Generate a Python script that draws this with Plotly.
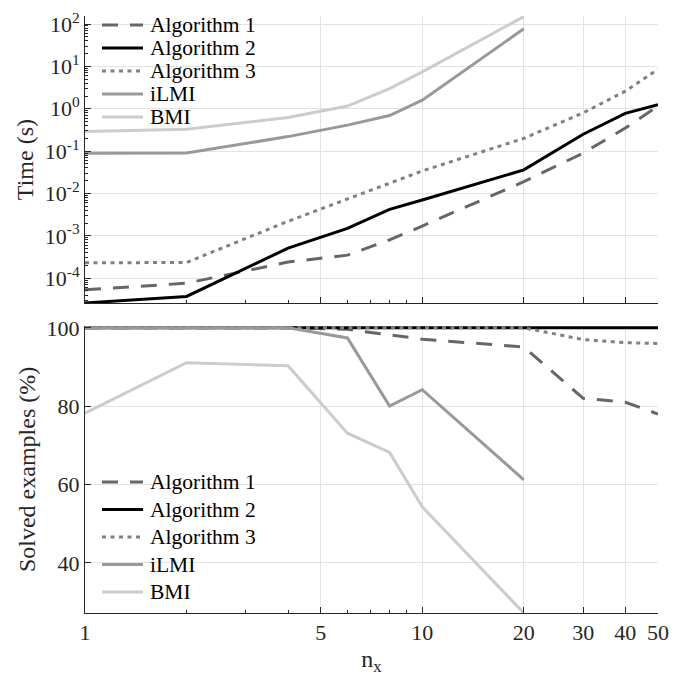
import plotly.graph_objects as go

# problem size
nx = [1, 2, 4, 6, 8, 10, 20, 30, 40, 50]
nx_lmi = [1, 2, 4, 6, 8, 10, 20]

# computation time (s)
time_alg1 = [5.3e-5, 7.6e-5, 2.4e-4, 3.5e-4, 8e-4, 1.7e-3, 0.019, 0.09, 0.35, 1.15]
time_alg2 = [2.6e-5, 3.7e-5, 5.1e-4, 1.5e-3, 4.2e-3, 7e-3, 0.036, 0.25, 0.78, 1.25]
time_alg3 = [2.3e-4, 2.35e-4, 2.2e-3, 7.5e-3, 0.018, 0.034, 0.2, 0.8, 2.6, 8.5]
time_ilmi = [0.089, 0.09, 0.22, 0.41, 0.69, 1.6, 77]
time_bmi = [0.29, 0.33, 0.62, 1.16, 3.0, 7.4, 150]

# solved examples (%)
solved_alg1 = [100, 100, 100, 99.6, 98.2, 97.1, 95.1, 82, 81, 78]
solved_alg2 = [100, 100, 100, 100, 100, 100, 100, 100, 100, 100]
solved_alg3 = [100, 100, 100, 100, 100, 100, 100, 97, 96.2, 96]
solved_ilmi = [100, 100, 100, 97.4, 80, 84.2, 61.2]
solved_bmi = [78.2, 91.1, 90.3, 73.1, 68.2, 54.3, 27.2]

names = ["Algorithm 1", "Algorithm 2", "Algorithm 3", "iLMI", "BMI"]
styles = [
    dict(color="#666666", width=3, dash="16px,12px"),
    dict(color="#000000", width=3),
    dict(color="#808080", width=3, dash="4px,4.5px"),
    dict(color="#999999", width=3),
    dict(color="#cccccc", width=3),
]
top_data = [(nx, time_alg1), (nx, time_alg2), (nx, time_alg3), (nx_lmi, time_ilmi), (nx_lmi, time_bmi)]
bot_data = [(nx, solved_alg1), (nx, solved_alg2), (nx, solved_alg3), (nx_lmi, solved_ilmi), (nx_lmi, solved_bmi)]

FONT = "Liberation Serif, Times New Roman, serif"
AX = "#262626"
OFF = 8  # page body margin
W, H = 680, 679
L, R, T, B = 77, 30, 8, 74

fig = go.Figure()
for i, name in enumerate(names):
    fig.add_trace(go.Scatter(x=top_data[i][0], y=top_data[i][1], mode="lines", name=name,
                             line=styles[i], xaxis="x", yaxis="y", showlegend=False))
for i, name in enumerate(names):
    fig.add_trace(go.Scatter(x=bot_data[i][0], y=bot_data[i][1], mode="lines", name=name,
                             line=styles[i], xaxis="x2", yaxis="y2", showlegend=False))

# hand-made legends (MATLAB style: long line sample, tight rows), page pixels -> paper
pw, ph = W - L - R, H - T - B
def px_x(p):
    return (p - OFF - L) / pw
def px_y(p):
    return (H - B - (p - OFF)) / ph

legend_rows = {"top": [25, 48, 71, 94, 117], "bottom": [482, 509.5, 537, 564.5, 592]}
for rows in legend_rows.values():
    for i, name in enumerate(names):
        yy = px_y(rows[i])
        st = styles[i]
        fig.add_shape(type="line", xref="paper", yref="paper", x0=px_x(102), x1=px_x(143),
                      y0=yy, y1=yy, line=dict(color=st["color"], width=3, dash=st.get("dash", "solid")))
        fig.add_annotation(text=name, xref="paper", yref="paper", x=px_x(148), y=yy,
                           xanchor="left", yanchor="middle", showarrow=False,
                           font=dict(family=FONT, size=21.5, color="#000000"))

x_major = [1, 5, 10, 20, 30, 40, 50]
x_minor = [2, 3, 4, 6, 7, 8, 9]
y_minor = [k * 10.0 ** e for e in range(-5, 3) for k in range(2, 10)]

xaxis_common = dict(type="log", range=[0, 1.699], tickvals=x_major, showgrid=True,
                    gridcolor="#e3e3e3", gridwidth=1, ticks="inside", ticklen=6,
                    tickcolor=AX, showline=True, linecolor=AX, linewidth=1,
                    zeroline=False, automargin=False,
                    minor=dict(tickvals=x_minor, ticks="inside", ticklen=3,
                               tickcolor=AX, showgrid=False))

fig.update_layout(
    width=W, height=H,
    margin=dict(l=L, r=R, t=T, b=B),
    paper_bgcolor="white", plot_bgcolor="white",
    font=dict(family=FONT, size=22, color="#262626"),
    showlegend=False,
    xaxis=dict(xaxis_common, anchor="y", showticklabels=False, matches="x2"),
    xaxis2=dict(xaxis_common, anchor="y2", ticktext=[str(v) for v in x_major],
                title=dict(text="n<sub>x</sub>", standoff=5, font=dict(size=24))),
    yaxis=dict(type="log", domain=[0.519, 1], range=[-4.59, 2.19],
               tickvals=[1e-4, 1e-3, 1e-2, 1e-1, 1, 10, 100],
               ticktext=["10<sup>-4</sup>", "10<sup>-3</sup>", "10<sup>-2</sup>", "10<sup>-1</sup>",
                         "10<sup>0</sup>", "10<sup>1</sup>", "10<sup>2</sup>"],
               showgrid=True, gridcolor="#e3e3e3", ticks="inside", ticklen=6,
               tickcolor=AX, showline=True, linecolor=AX, linewidth=1,
               zeroline=False, automargin=False,
               title=dict(text="Time (s)", standoff=4, font=dict(size=24)),
               minor=dict(tickvals=y_minor, ticks="inside", ticklen=3, tickcolor=AX,
                          showgrid=False)),
    yaxis2=dict(domain=[0, 0.481], range=[27.2, 100.5], tickvals=[40, 60, 80, 100],
                showgrid=True, gridcolor="#e3e3e3", ticks="inside", ticklen=6,
                tickcolor=AX, showline=True, linecolor=AX, linewidth=1,
                zeroline=False, automargin=False,
                title=dict(text="Solved examples (%)", standoff=4, font=dict(size=24))),
)

fig.write_html("out.html")
